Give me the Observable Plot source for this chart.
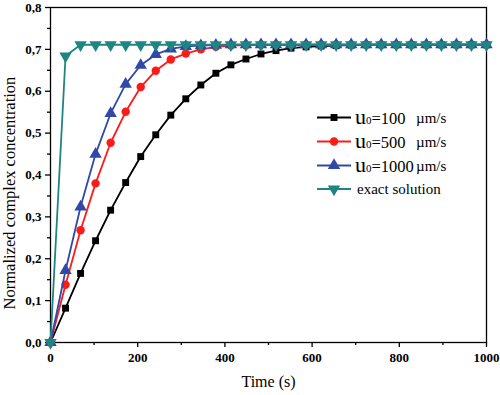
<!DOCTYPE html>
<html>
<head>
<meta charset="utf-8">
<script src="https://cdn.jsdelivr.net/npm/d3@7"></script>
<script src="https://cdn.jsdelivr.net/npm/@observablehq/plot@0.6"></script>
<style>
  html, body { margin: 0; padding: 0; background: #fff; }
  svg { display: block; }
  svg text { font-family: "Liberation Serif", "Times New Roman", serif; }
</style>
</head>
<body>
<div id="chart"></div>
<script>
// Time points (s)
const time = [0, 34.5, 69, 103.4, 137.9, 172.4, 206.9, 241.4, 275.9, 310.3, 344.8, 379.3, 413.8, 448.3, 482.8,
  517.2, 551.7, 586.2, 620.7, 655.2, 689.7, 724.1, 758.6, 793.1, 827.6, 862.1, 896.6, 931, 965.5, 1000];

// Normalized complex concentration per series
const u100 = [0, 0.082, 0.165, 0.243, 0.316, 0.382, 0.444, 0.496, 0.543, 0.582, 0.615, 0.643, 0.663, 0.677, 0.689,
  0.697, 0.703, 0.706, 0.708, 0.709, 0.710, 0.711, 0.711, 0.711, 0.711, 0.711, 0.711, 0.711, 0.711, 0.711];
const u500 = [0, 0.138, 0.268, 0.380, 0.477, 0.551, 0.610, 0.649, 0.676, 0.690, 0.700, 0.706, 0.709, 0.710, 0.711,
  0.711, 0.711, 0.711, 0.711, 0.711, 0.711, 0.711, 0.711, 0.711, 0.711, 0.711, 0.711, 0.711, 0.711, 0.711];
const u1000 = [0, 0.172, 0.324, 0.450, 0.547, 0.617, 0.662, 0.688, 0.701, 0.707, 0.709, 0.710, 0.711, 0.711, 0.711,
  0.711, 0.711, 0.711, 0.711, 0.711, 0.711, 0.711, 0.711, 0.711, 0.711, 0.711, 0.711, 0.711, 0.711, 0.711];
const exact = [0, 0.684, 0.711, 0.711, 0.711, 0.711, 0.711, 0.711, 0.711, 0.711, 0.711, 0.711, 0.711, 0.711, 0.711,
  0.711, 0.711, 0.711, 0.711, 0.711, 0.711, 0.711, 0.711, 0.711, 0.711, 0.711, 0.711, 0.711, 0.711, 0.711];

const seriesNames = ["u0=100 µm/s", "u0=500 µm/s", "u0=1000 µm/s", "exact solution"];
const seriesValues = [u100, u500, u1000, exact];
const seriesColors = ["#000000", "#ff1a1a", "#3048a8", "#1f8580"];
const seriesSymbols = ["square", "circle", "triangle", "triangle"];
const seriesRotate = [0, 0, 0, 180];
const seriesR = [3.9, 4.2, 4.6, 4.6];

const xTicks = [0, 200, 400, 600, 800, 1000];
const xMinor = [100, 300, 500, 700, 900];
const yTicks = [0, 0.1, 0.2, 0.3, 0.4, 0.5, 0.6, 0.7, 0.8];
const yMinor = [0.05, 0.15, 0.25, 0.35, 0.45, 0.55, 0.65, 0.75];

const xLabel = "Time (s)";
const yLabel = "Normalized complex concentration";

const rows = [];
seriesValues.forEach((vals, s) => vals.forEach((v, i) => rows.push({series: s, t: time[i], c: v})));

const serif = "Liberation Serif";
const fmt = d => d3.format(".1f")(d).replace(".", ",");

const marks = [
  Plot.axisX({ticks: xTicks, tickSize: 5, tickPadding: 5, tickFormat: d => String(d), fontWeight: "bold", fontSize: 13, fontFamily: serif, label: null, strokeWidth: 1.3}),
  Plot.axisX({ticks: xMinor, tickSize: 3, tickFormat: () => "", label: null, strokeWidth: 1.3}),
  Plot.axisY({ticks: yTicks, tickSize: 5, tickPadding: 4, tickFormat: fmt, fontWeight: "bold", fontSize: 13, fontFamily: serif, label: null, strokeWidth: 1.3}),
  Plot.axisY({ticks: yMinor, tickSize: 3, tickFormat: () => "", label: null, strokeWidth: 1.3}),
  Plot.frame({stroke: "#000", strokeWidth: 1.3}),
  Plot.text([xLabel], {frameAnchor: "bottom", textAnchor: "middle", dy: 44, fontSize: 16, fontFamily: serif, fill: "#000"}),
  Plot.text([yLabel], {frameAnchor: "left", textAnchor: "middle", rotate: -90, dx: -41, dy: 18, fontSize: 16.5, fontFamily: serif, fill: "#000"})
];
seriesValues.forEach((vals, s) => {
  const data = rows.filter(d => d.series === s);
  marks.push(Plot.line(data, {x: "t", y: "c", stroke: seriesColors[s], strokeWidth: 1.8}));
  marks.push(Plot.dot(data, {x: "t", y: "c", symbol: seriesSymbols[s], r: seriesR[s], fill: seriesColors[s], stroke: "none", rotate: seriesRotate[s]}));
});

const plot = Plot.plot({
  width: 500, height: 395,
  marginLeft: 50, marginRight: 14, marginTop: 7, marginBottom: 53,
  style: {fontFamily: serif, background: "#fff", color: "#000", overflow: "visible"},
  x: {domain: [0, 1000]},
  y: {domain: [0, 0.8]},
  marks
});
document.getElementById("chart").appendChild(plot);

// Legend (inside the plot area, top-right)
const svg = d3.select(plot);
const lg = svg.append("g").attr("font-family", serif).attr("text-anchor", "start");
const lx0 = 317, lx1 = 351, tx = 355, mx = 416;
const rowY = [117.5, 141.5, 165.5, 189];
seriesNames.forEach((name, s) => {
  const y = rowY[s];
  const g = lg.append("g");
  g.append("line").attr("x1", lx0).attr("x2", lx1).attr("y1", y).attr("y2", y)
    .attr("stroke", seriesColors[s]).attr("stroke-width", 1.8);
  const sym = {square: d3.symbolSquare, circle: d3.symbolCircle, triangle: d3.symbolTriangle}[seriesSymbols[s]];
  g.append("path").attr("d", d3.symbol(sym, Math.PI * seriesR[s] * seriesR[s])())
    .attr("transform", `translate(${(lx0 + lx1) / 2},${y}) rotate(${seriesRotate[s]})`)
    .attr("fill", seriesColors[s]);
  if (s < 3) {
    const m = name.match(/^u0=(\d+) (.*)$/);
    const t = g.append("text").attr("x", tx).attr("y", y + 6).attr("fill", "#000").attr("text-anchor", "start");
    t.append("tspan").attr("font-size", 22).text("u");
    t.append("tspan").attr("font-size", 11).text("0");
    t.append("tspan").attr("font-size", 16.5).text("=" + m[1]);
    g.append("text").attr("x", mx).attr("y", y + 5).attr("font-size", 15).attr("fill", "#000").attr("text-anchor", "start").text(m[2]);
  } else {
    g.append("text").attr("x", tx + 2).attr("y", y + 5).attr("font-size", 15).attr("fill", "#000").attr("text-anchor", "start").text(name);
  }
});
</script>
</body>
</html>
